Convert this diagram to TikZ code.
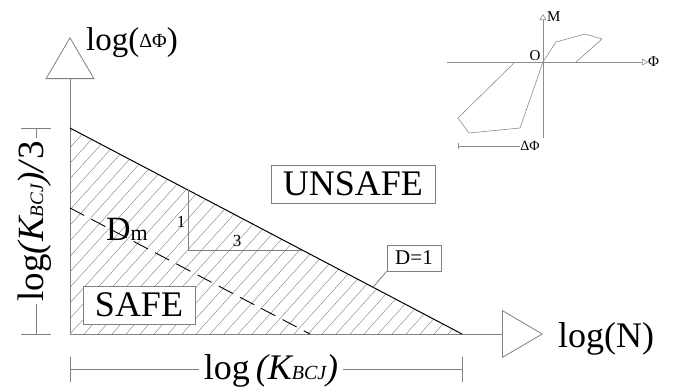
\documentclass[tikz,border=0pt]{standalone}
\usepackage{fontspec}
\setmainfont{Liberation Serif}
\usetikzlibrary{arrows.meta,calc}
\definecolor{axgray}{HTML}{808080}
\definecolor{lightgray}{HTML}{8C8C8C}
\tikzset{
  ax/.style={draw=axgray,line width=0.8pt},
  bigtip/.style={-{Triangle[open,length=42pt,width=49pt]}},
  smalltip/.style={-{Triangle[open,length=6pt,width=7pt]}},
  hatchline/.style={draw=axgray,line width=0.4pt},
  dimline/.style={draw=axgray,line width=0.8pt},
  regionbox/.style={draw=axgray,fill=white,line width=0.8pt,inner sep=0pt,font=\fontsize{36}{40}\selectfont},
  inset/.style={draw=lightgray,line width=0.6pt},
  insetlabel/.style={inner sep=0pt,font=\fontsize{15}{17}\selectfont},
}
\begin{document}
\begin{tikzpicture}[x=1pt,y=-1pt]
\useasboundingbox (0,0) rectangle (683,386);
% main coordinates
\coordinate (O) at (70,334);
\coordinate (A) at (70,128);
\coordinate (B) at (462,334);
\coordinate (Dm0) at (70,208);
\coordinate (Dm1) at (310,334);
% hatching
\begin{scope}
  \clip (A) -- (B) -- (O) -- cycle;
  \foreach \k in {-18,...,30} {
    \draw[hatchline] (70+\k*14,334) -- ++(220,-244);
  }
\end{scope}
% axes
\coordinate (ytip) at (70,37);
\coordinate (xtip) at (543,334);
\draw[ax,bigtip] (O) -- (ytip);
\draw[ax,-{Triangle[open,length=41pt,width=48pt]}] (O) -- (xtip);
% D=1 line and Dm dashed line
\draw[black,line width=1pt] (A) -- (B);
\draw[black,line width=0.9pt,dash pattern=on 16pt off 8pt] (Dm0) -- (Dm1);
% slope triangle
\coordinate (s1) at ($(A)!0.3023!(B)$);
\coordinate (s3) at ($(A)!0.5931!(B)$);
\coordinate (sc) at (s1 |- s3);
\draw[ax] (s1) -- (sc) -- (s3);
\node[inner sep=0pt,font=\fontsize{17}{19}\selectfont] (one) at (181,222) {1};
\node[inner sep=0pt,font=\fontsize{17}{19}\selectfont] (three) at (237,241) {3};
% labels
\node[inner sep=0pt,anchor=base] (dm) at (127,240) {\fontsize{34}{38}\selectfont D\fontsize{22}{24}\selectfont m};
\node[regionbox,minimum width=164pt,minimum height=38pt] (unsafe) at (353,184) {UNSAFE};
\node[regionbox,minimum width=112pt,minimum height=38pt] (safe) at (139,305) {SAFE};
\node[draw=axgray,fill=white,line width=0.8pt,inner sep=0pt,minimum width=54pt,minimum height=26pt,font=\fontsize{21}{23}\selectfont] (d1) at (414,258) {D=1};
\coordinate (lead) at ($(A)!0.773!(B)$);
\draw[ax] (d1.south west) -- (lead);
% axis labels
\node[inner sep=0pt,anchor=base west] (ylab) at (86,50) {\fontsize{33}{36}\selectfont log(\raisebox{3pt}{\fontsize{20}{22}\selectfont ΔΦ})\!};
\node[inner sep=0pt,anchor=base west] (xlab) at (558,347) {\fontsize{36}{40}\selectfont log(N)};
% dimension lines
\draw[dimline] (21,128) -- (51,128);
\draw[dimline] (21,334) -- (51,334);
\draw[dimline] (36,128) -- (36,334);
\node[fill=white,inner sep=3pt,rotate=90,anchor=base] (kv) at (43,221) {\fontsize{37}{41}\selectfont log\textit{(K\fontsize{19}{21}\selectfont BCJ\fontsize{37}{41}\selectfont )/}3};
\draw[dimline] (70,357) -- (70,382);
\draw[dimline] (462,357) -- (462,382);
\draw[dimline] (70,369) -- (462,369);
\node[fill=white,inner sep=5pt,anchor=base] (kh) at (271,379) {\fontsize{36}{40}\selectfont log\,\textit{(K\fontsize{20}{22}\selectfont BCJ\fontsize{36}{40}\selectfont )}};
% inset
\coordinate (io) at (543,62);
\coordinate (ixl) at (447,62);
\coordinate (ixr) at (648,62);
\coordinate (iyt) at (543,14);
\coordinate (iyb) at (543,138);
\draw[inset,smalltip] (ixl) -- (ixr);
\draw[inset,smalltip] (iyb) -- (iyt);
\draw[inset] (io) -- (556,42) -- (585,34) -- (602,39) -- (576,62);
\draw[inset] (515,62) -- (458,118) -- (469,133) -- (520,128) -- (io);
\node[insetlabel,anchor=west] (phi) at (648,62) {Φ};
\node[insetlabel,anchor=west] (M) at (547,17) {M};
\node[insetlabel] (Olab) at (535,56) {O};
\node[insetlabel,font=\fontsize{14}{16}\selectfont] (dphi) at (530,146) {ΔΦ};
\coordinate (dp0) at (458,146);
\draw[inset] (dp0) -- (dphi.west);
\draw[inset] (458,143) -- (458,149);
\end{tikzpicture}
\end{document}
